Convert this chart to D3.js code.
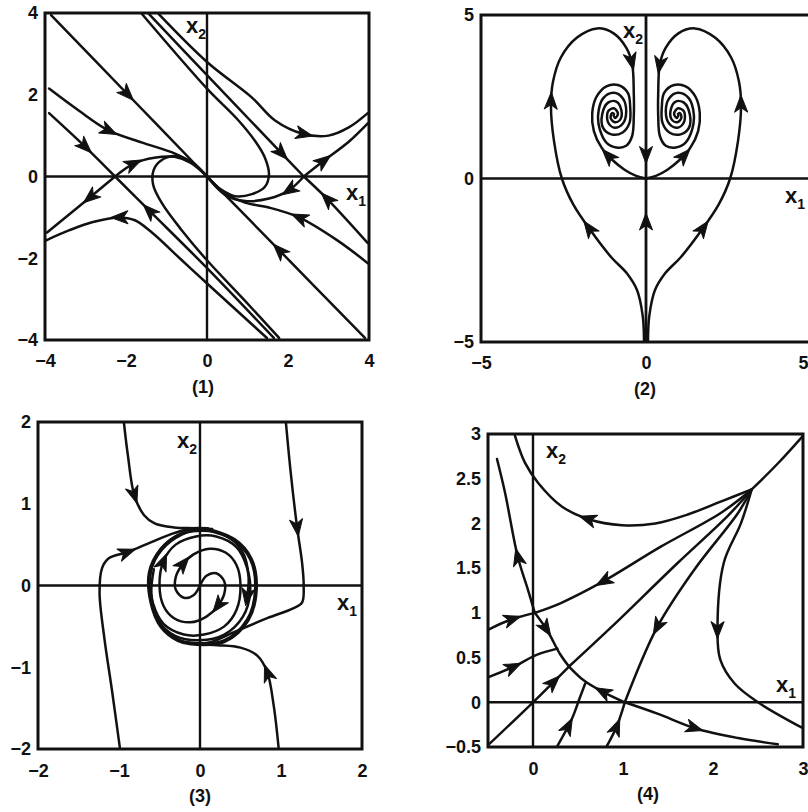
<!DOCTYPE html>
<html>
<head>
<meta charset="utf-8">
<script src="https://cdn.jsdelivr.net/npm/d3@7"></script>
<style>
  body { margin: 0; background: #fff; }
  svg { display: block; }
  text { font-family: "Liberation Sans", Arial, sans-serif; font-weight: bold; fill: #111; }
</style>
</head>
<body>
<svg id="chart" width="808" height="812"></svg>
<script>
// ---------- Panel (1): node at the origin, saddles on the x1 axis ----------
const p1XTicks = [-4, -2, 0, 2, 4];
const p1YTicks = [-4, -2, 0, 2, 4];
const p1XLabels = ["−4", "−2", "0", "2", "4"];
const p1YLabels = ["−4", "−2", "0", "2", "4"];
const p1Paths = [
  [[-3.85, 3.95], [-1.95, 2.0], [0, 0]],
  [[3.9, -3.95], [1.8, -1.82], [0, 0]],
  [[-3.9, 2.15], [-3.15, 1.6], [-2.42, 1.12], [-1.6, 0.83], [-0.79, 0.56], [-0.3, 0.3], [0, 0]],
  [[-3.9, 1.55], [-3.0, 0.72], [-2.27, 0]],
  [[-2.27, 0], [-1.8, 0.32], [-1.3, 0.46], [-0.8, 0.48], [-0.4, 0.33], [0, 0]],
  [[-2.27, 0], [-2.9, -0.52], [-3.95, -1.37]],
  [[1.48, -3.95], [0.05, -2.66], [-0.62, -2.05], [-1.36, -1.37], [-1.78, -1.07], [-2.17, -1.0], [-2.84, -1.12], [-3.41, -1.32], [-3.97, -1.56]],
  [[1.65, -3.95], [0.05, -2.29], [-1.43, -0.83], [-2.27, 0]],
  [[1.78, -3.95], [0.9, -3.0], [0.0, -2.05], [-0.62, -1.32], [-1.11, -0.66], [-1.33, -0.2], [-1.32, 0.15], [-1.15, 0.38], [-0.8, 0.5], [-0.4, 0.35], [0, 0]],
  [[-1.6, 3.97], [0, 2.15], [0.75, 1.4], [1.2, 0.85], [1.43, 0.46], [1.53, 0.05], [1.43, -0.25], [1.11, -0.43], [0.69, -0.48], [0.35, -0.32], [0, 0]],
  [[-1.43, 3.97], [0, 2.48], [1.85, 0.56], [2.39, 0]],
  [[-1.19, 3.97], [0, 2.8], [1.11, 1.93], [1.68, 1.37], [2.35, 1.05], [3.0, 1.0], [3.5, 1.2], [3.97, 1.55]],
  [[2.39, 0], [2.89, 0.39], [3.5, 0.85], [3.97, 1.3]],
  [[2.39, 0], [2.02, -0.34], [1.53, -0.54], [0.94, -0.6], [0.45, -0.45], [0, 0]],
  [[3.97, -1.63], [2.96, -0.54], [2.39, 0]],
  [[3.97, -2.12], [3.2, -1.55], [2.27, -1.0], [1.53, -0.76], [0.94, -0.64], [0.4, -0.38], [0, 0]]
];
// arrow marks: [path index, x1, x2]
const p1Arrows = [
  [0, -1.93, 2.03], [1, 1.78, -1.8], [2, -2.4, 1.12], [3, -3.0, 0.72], [4, -1.8, 0.32],
  [5, -2.9, -0.52], [6, -2.17, -1.0], [7, -1.43, -0.83], [10, 1.85, 0.56], [11, 2.42, 1.03],
  [12, 2.89, 0.39], [13, 2.02, -0.34], [14, 2.96, -0.54], [15, 2.27, -1.0]
];

// ---------- Panel (2): two foci and the heart-shaped lobes ----------
const p2XTicks = [-5, 0, 5];
const p2YTicks = [-5, 0, 5];
const p2XLabels = ["−5", "0", "5"];
const p2YLabels = ["−5", "0", "5"];
const p2Paths = [
  [[-0.06, -4.95], [-0.1, -4.2], [-0.27, -3.42], [-0.58, -2.9], [-1.06, -2.4], [-1.67, -1.6], [-2.2, -0.8], [-2.55, 0], [-2.79, 1.16], [-2.88, 2.2], [-2.82, 2.95], [-2.58, 3.7], [-2.09, 4.31], [-1.48, 4.59], [-0.97, 4.43], [-0.6, 4.0], [-0.42, 3.5], [-0.37, 2.6], [-0.37, 1.9], [-0.42, 1.3], [-0.6, 1.0], [-0.9, 0.95], [-1.2, 1.1], [-1.4, 1.5], [-1.45, 1.95], [-1.3, 2.45], [-0.98, 2.62], [-0.7, 2.45], [-0.6, 2.05], [-0.7, 1.68], [-0.95, 1.55], [-1.15, 1.72], [-1.15, 2.05], [-0.97, 2.15], [-0.85, 1.98], [-0.93, 1.85], [-0.98, 1.92]],
  [[0.06, -4.95], [0.1, -4.2], [0.27, -3.42], [0.58, -2.9], [1.06, -2.4], [1.67, -1.6], [2.2, -0.8], [2.55, 0], [2.79, 1.16], [2.88, 2.2], [2.82, 2.95], [2.58, 3.7], [2.09, 4.31], [1.48, 4.59], [0.97, 4.43], [0.6, 4.0], [0.42, 3.5], [0.37, 2.6], [0.37, 1.9], [0.42, 1.3], [0.6, 1.0], [0.9, 0.95], [1.2, 1.1], [1.4, 1.5], [1.45, 1.95], [1.3, 2.45], [0.98, 2.62], [0.7, 2.45], [0.6, 2.05], [0.7, 1.68], [0.95, 1.55], [1.15, 1.72], [1.15, 2.05], [0.97, 2.15], [0.85, 1.98], [0.93, 1.85], [0.98, 1.92]],
  [[0, 0], [-0.3, 0.08], [-0.65, 0.27], [-1.0, 0.55], [-1.35, 0.95], [-1.58, 1.45], [-1.63, 2.0], [-1.5, 2.5], [-1.2, 2.82], [-0.85, 2.86], [-0.55, 2.62], [-0.48, 2.2], [-0.5, 1.7], [-0.72, 1.4], [-1.05, 1.35], [-1.3, 1.55], [-1.33, 1.95], [-1.15, 2.32], [-0.9, 2.35], [-0.75, 2.1], [-0.78, 1.8], [-0.95, 1.72], [-1.07, 1.85], [-1.03, 2.0], [-0.97, 1.97]],
  [[0, 0], [0.3, 0.08], [0.65, 0.27], [1.0, 0.55], [1.35, 0.95], [1.58, 1.45], [1.63, 2.0], [1.5, 2.5], [1.2, 2.82], [0.85, 2.86], [0.55, 2.62], [0.48, 2.2], [0.5, 1.7], [0.72, 1.4], [1.05, 1.35], [1.3, 1.55], [1.33, 1.95], [1.15, 2.32], [0.9, 2.35], [0.75, 2.1], [0.78, 1.8], [0.95, 1.72], [1.07, 1.85], [1.03, 2.0], [0.97, 1.97]],
  [[0, -5], [0, -2.5], [0, 0]],
  [[0, 5], [0, 2.5], [0, 0]]
];
const p2Arrows = [
  [0, -1.75, -1.5], [0, -2.86, 2.4], [0, -0.45, 3.55], [2, -1.15, 0.72],
  [1, 1.75, -1.5], [1, 2.86, 2.3], [1, 0.45, 3.45], [3, 1.2, 0.68],
  [4, 0, -1.3], [5, 0, 0.7]
];

// ---------- Panel (3): stable limit cycle ----------
const p3XTicks = [-2, -1, 0, 1, 2];
const p3YTicks = [-2, -1, 0, 1, 2];
const p3XLabels = ["−2", "−1", "0", "1", "2"];
const p3YLabels = ["−2", "−1", "0", "1", "2"];
const p3Cycle = [[0.0, 0.69], [0.42, 0.56], [0.63, 0.32], [0.69, -0.05], [0.59, -0.42], [0.3, -0.68], [-0.11, -0.71], [-0.27, -0.67], [-0.48, -0.5], [-0.6, -0.21], [-0.62, 0.16], [-0.48, 0.44], [-0.23, 0.63]];
const p3Paths = [
  [[-0.94, 2.0], [-0.89, 1.59], [-0.81, 1.1], [-0.69, 0.86], [-0.56, 0.76], [-0.32, 0.71], [-0.07, 0.7], [0.15, 0.69]],
  [[1.06, 2.0], [1.12, 1.38], [1.2, 0.7], [1.26, 0.28], [1.28, 0], [1.26, -0.21], [1.15, -0.28], [0.83, -0.4], [0.42, -0.57], [0.17, -0.68], [-0.05, -0.72]],
  [[-0.99, -1.98], [-1.09, -1.26], [-1.18, -0.65], [-1.24, -0.09], [-1.21, 0.21], [-1.13, 0.33], [-0.89, 0.41], [-0.6, 0.53], [-0.32, 0.64], [-0.1, 0.7], [0.1, 0.7]],
  [[0.97, -1.98], [0.91, -1.47], [0.83, -1.06], [0.71, -0.86], [0.5, -0.76], [0.22, -0.73], [0, -0.72], [-0.15, -0.7]],
  [[0, 0], [0.08, 0.12], [0.2, 0.15], [0.3, 0.05], [0.3, -0.1], [0.22, -0.25], [0.08, -0.38], [-0.12, -0.45], [-0.32, -0.4], [-0.45, -0.25], [-0.5, 0], [-0.45, 0.3], [-0.3, 0.5], [-0.05, 0.6], [0.2, 0.6], [0.45, 0.47], [0.58, 0.22], [0.62, -0.08], [0.53, -0.38], [0.3, -0.6], [0, -0.67], [-0.3, -0.62], [-0.52, -0.42], [-0.6, -0.1], [-0.57, 0.2]],
  [[0, 0], [-0.08, -0.12], [-0.2, -0.15], [-0.3, -0.05], [-0.3, 0.1], [-0.22, 0.25], [-0.08, 0.38], [0.12, 0.45], [0.32, 0.4], [0.45, 0.25], [0.5, 0], [0.45, -0.3], [0.3, -0.5], [0.05, -0.6], [-0.2, -0.6], [-0.45, -0.47], [-0.58, -0.22], [-0.62, 0.08], [-0.53, 0.38], [-0.3, 0.6], [0, 0.67], [0.3, 0.62], [0.52, 0.42], [0.6, 0.1], [0.57, -0.2]]
];
const p3Arrows = [
  [0, -0.81, 1.1], [1, 1.2, 0.7], [2, -0.89, 0.41], [3, 0.83, -1.06],
  [4, 0.22, -0.25], [4, -0.45, 0.3], [5, -0.21, 0.28], [5, 0.59, -0.15]
];

// ---------- Panel (4): node, two saddles and a sink ----------
const p4XTicks = [0, 1, 2, 3];
const p4YTicks = [-0.5, 0, 0.5, 1, 1.5, 2, 2.5, 3];
const p4XLabels = ["0", "1", "2", "3"];
const p4YLabels = ["−0.5", "0", "0.5", "1", "1.5", "2", "2.5", "3"];
const p4Paths = [
  [[2.43, 2.38], [2.1, 2.25], [1.72, 2.1], [1.36, 2.0], [0.99, 1.98], [0.61, 2.05], [0.32, 2.19], [0.06, 2.45], [-0.09, 2.68], [-0.2, 2.98]],
  [[2.43, 2.38], [2.72, 2.67], [3.0, 2.98]],
  [[2.43, 2.38], [2.09, 2.12], [1.42, 1.74], [0.76, 1.34], [0.31, 1.11], [0.02, 1.0]],
  [[-0.5, 0.81], [-0.26, 0.92], [0.02, 1.0]],
  [[2.43, 2.38], [2.17, 2.09], [1.61, 1.56], [0.87, 0.84], [0.4, 0.4]],
  [[-0.5, -0.48], [0, 0], [0.4, 0.4]],
  [[2.43, 2.38], [2.28, 2.12], [1.79, 1.48], [1.38, 0.84], [1.02, 0]],
  [[0.82, -0.49], [0.93, -0.27], [1.02, 0]],
  [[2.43, 2.38], [2.31, 2.0], [2.12, 1.56], [2.05, 0.84], [2.08, 0.48], [2.24, 0.21], [2.5, 0], [3.0, -0.29]],
  [[0.02, 1.0], [-0.06, 1.27], [-0.17, 1.63], [-0.31, 2.34], [-0.4, 2.72]],
  [[0.02, 1.0], [0.16, 0.8], [0.3, 0.54], [0.4, 0.4]],
  [[1.02, 0], [0.77, 0.12], [0.57, 0.24], [0.4, 0.4]],
  [[1.02, 0], [1.39, -0.13], [1.8, -0.29], [2.28, -0.4], [2.72, -0.47]],
  [[-0.5, 0.28], [-0.21, 0.4], [0.04, 0.53], [0.27, 0.6]],
  [[0.27, -0.49], [0.43, -0.19], [0.52, 0.05], [0.58, 0.21]]
];
const p4Arrows = [
  [0, 0.6, 2.05], [2, 0.78, 1.35], [3, -0.22, 0.93], [5, 0.23, 0.23], [6, 1.38, 0.84],
  [7, 0.93, -0.27], [8, 2.05, 0.8], [9, -0.17, 1.63], [10, 0.15, 0.82], [11, 0.77, 0.12],
  [12, 1.8, -0.29], [13, -0.21, 0.4], [14, 0.4, -0.26]
];

// ---------- layout of the four panels ----------
const panels = [
  { id: 1, box: [45, 13, 369, 340], xDomain: [-4, 4], yDomain: [-4, 4],
    xTicks: p1XTicks, yTicks: p1YTicks, xLabels: p1XLabels, yLabels: p1YLabels,
    paths: p1Paths, arrows: p1Arrows, xPad: 14, capX: 203,
    x2At: [186, 33], x1At: [346, 200] },
  { id: 2, box: [481, 15, 811, 342], xDomain: [-5, 5], yDomain: [-5, 5],
    xTicks: p2XTicks, yTicks: p2YTicks, xLabels: p2XLabels, yLabels: p2YLabels,
    paths: p2Paths, arrows: p2Arrows, xPad: 14, capX: 645,
    x2At: [623, 38], x1At: [785, 203] },
  { id: 3, box: [38, 422, 362, 749], xDomain: [-2, 2], yDomain: [-2, 2],
    xTicks: p3XTicks, yTicks: p3YTicks, xLabels: p3XLabels, yLabels: p3YLabels,
    paths: p3Paths, arrows: p3Arrows, cycle: p3Cycle, xPad: 15.5, capX: 200,
    x2At: [177, 448], x1At: [337, 610] },
  { id: 4, box: [488, 434, 803, 747], xDomain: [-0.5, 3], yDomain: [-0.5, 3],
    xTicks: p4XTicks, yTicks: p4YTicks, xLabels: p4XLabels, yLabels: p4YLabels,
    paths: p4Paths, arrows: p4Arrows, xPad: 15.5, capX: 648,
    x2At: [546, 458], x1At: [776, 692] }
];

const svg = d3.select("#chart");
const INK = "#111";
const VIEW_W = 808;

function drawPanel(cfg) {
  const [bx0, by0, bx1, by1] = cfg.box;
  const x = d3.scaleLinear().domain(cfg.xDomain).range([bx0, bx1]);
  const y = d3.scaleLinear().domain(cfg.yDomain).range([by1, by0]);
  const g = svg.append("g");

  const clipId = "clip" + cfg.id;
  svg.append("clipPath").attr("id", clipId)
    .append("rect").attr("x", bx0).attr("y", by0).attr("width", bx1 - bx0).attr("height", by1 - by0);

  const plot = g.append("g").attr("clip-path", `url(#${clipId})`);

  // coordinate axes through the origin
  plot.append("line")
    .attr("x1", bx0).attr("x2", bx1).attr("y1", y(0)).attr("y2", y(0))
    .attr("stroke", INK).attr("stroke-width", 2.4);
  plot.append("line")
    .attr("x1", x(0)).attr("x2", x(0)).attr("y1", by0).attr("y2", by1)
    .attr("stroke", INK).attr("stroke-width", 2.4);

  const line = d3.line().x(d => x(d[0])).y(d => y(d[1])).curve(d3.curveCatmullRom.alpha(0.5));

  if (cfg.cycle) {
    const closed = d3.line().x(d => x(d[0])).y(d => y(d[1])).curve(d3.curveCatmullRomClosed.alpha(0.5));
    plot.append("path").attr("d", closed(cfg.cycle))
      .attr("fill", "none").attr("stroke", INK).attr("stroke-width", 4);
  }

  const nodes = cfg.paths.map(p =>
    plot.append("path").attr("d", line(p))
      .attr("fill", "none").attr("stroke", INK)
      .attr("stroke-width", 2.5).attr("stroke-linejoin", "round").attr("stroke-linecap", "round")
      .node());

  // arrowheads along the trajectories, pointing in the direction of motion
  cfg.arrows.forEach(([i, ax, ay]) => {
    const node = nodes[i];
    const L = node.getTotalLength();
    const px = x(ax), py = y(ay);
    let best = 0, bd = Infinity;
    for (let l = 0; l <= L; l += 0.5) {
      const p = node.getPointAtLength(l);
      const d = (p.x - px) ** 2 + (p.y - py) ** 2;
      if (d < bd) { bd = d; best = l; }
    }
    const a = node.getPointAtLength(Math.max(0, best - 2.5));
    const b = node.getPointAtLength(Math.min(L, best + 2.5));
    const ang = Math.atan2(b.y - a.y, b.x - a.x) * 180 / Math.PI;
    const p = node.getPointAtLength(best);
    plot.append("path")
      .attr("d", "M8,0L-9,-6.5L-4.5,0L-9,6.5Z")
      .attr("transform", `translate(${p.x},${p.y}) rotate(${ang})`)
      .attr("fill", INK).attr("stroke", INK).attr("stroke-width", 1).attr("stroke-linejoin", "round");
  });

  // frame
  g.append("rect")
    .attr("x", bx0).attr("y", by0).attr("width", bx1 - bx0).attr("height", by1 - by0)
    .attr("fill", "none").attr("stroke", INK).attr("stroke-width", 3);

  // tick labels
  const yAxis = d3.axisLeft(y).tickValues(cfg.yTicks).tickSize(0).tickPadding(7)
    .tickFormat((d, i) => cfg.yLabels[i]);
  const xAxis = d3.axisBottom(x).tickValues(cfg.xTicks).tickSize(0).tickPadding(cfg.xPad)
    .tickFormat((d, i) => cfg.xLabels[i]);
  const ya = g.append("g").attr("transform", `translate(${bx0},0)`).call(yAxis);
  const xa = g.append("g").attr("transform", `translate(0,${by1})`).call(xAxis);
  [ya, xa].forEach(a => {
    a.select(".domain").remove();
    a.attr("font-size", null).attr("font-family", null);
    a.selectAll("text").style("font-size", "18px").style("font-weight", "bold").attr("fill", INK);
  });
  // keep a label that would run past the right edge of the view inside it
  xa.selectAll(".tick").filter(d => x(d) + 6 > VIEW_W).select("text")
    .attr("text-anchor", "end").attr("x", d => VIEW_W - x(d));

  // caption
  g.append("text").attr("x", cfg.capX).attr("y", by1 + 53)
    .attr("text-anchor", "middle").style("font-size", "18px").text(`(${cfg.id})`);

  // state variable names
  const lab = (pos, sub) => {
    const t = g.append("text").attr("x", pos[0]).attr("y", pos[1]).style("font-size", "22px");
    t.append("tspan").text("x");
    t.append("tspan").attr("dy", 6).style("font-size", "14px").text(sub);
  };
  lab(cfg.x2At, "2");
  lab(cfg.x1At, "1");
}

panels.forEach(drawPanel);
</script>
</body>
</html>
